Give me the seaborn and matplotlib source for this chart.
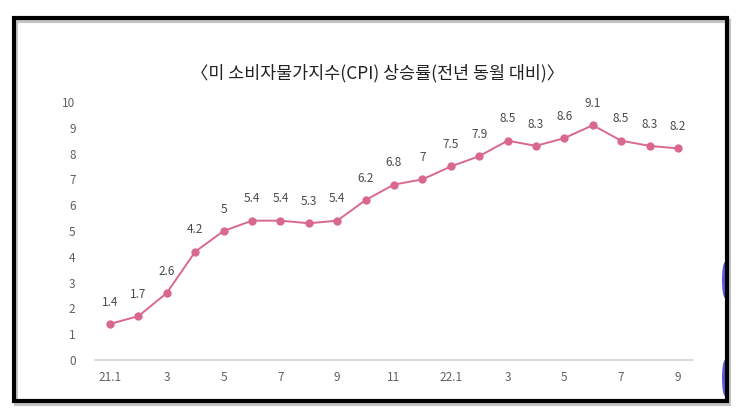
import matplotlib
matplotlib.use("Agg")
import matplotlib.pyplot as plt
import seaborn as sns
import pandas as pd
from matplotlib.patches import Rectangle, Ellipse

months = ["21.1","21.2","21.3","21.4","21.5","21.6","21.7","21.8","21.9","21.10","21.11","21.12",
          "22.1","22.2","22.3","22.4","22.5","22.6","22.7","22.8","22.9"]
cpi = [1.4,1.7,2.6,4.2,5,5.4,5.4,5.3,5.4,6.2,6.8,7,7.5,7.9,8.5,8.3,8.6,9.1,8.5,8.3,8.2]
xtick_labels = ["21.1","3","5","7","9","11","22.1","3","5","7","9"]
yticks = [0,1,2,3,4,5,6,7,8,9,10]
title = "〈미 소비자물가지수(CPI) 상승률(전년 동월 대비)〉"

sns.set_theme(style="white")
plt.rcParams['font.family'] = ['Noto Sans CJK KR', 'DejaVu Sans']

df = pd.DataFrame({"idx": range(len(months)), "month": months, "cpi": cpi})

fig = plt.figure(figsize=(7.43, 4.17), dpi=100)
fig.patch.set_facecolor("white")

W, H = 743, 417
# blue marks at right edge
for yc in (280, 378):
    fig.add_artist(Ellipse((725/W, 1-yc/H), 6/W, 36/H, transform=fig.transFigure,
                           facecolor="#5a5ae0", edgecolor="none", zorder=0))
# frame with shadow
fig.add_artist(Rectangle((16/W, 1-404/H), 713/W, 383/H, transform=fig.transFigure,
                         facecolor="none", edgecolor="#c4c4c4", lw=3, zorder=0))
fig.add_artist(Rectangle((14/W, 1-401/H), 713/W, 383/H, transform=fig.transFigure,
                         facecolor="none", edgecolor="black", lw=3, zorder=1))

ax = fig.add_axes([95/W, 57/H, 598/W, 258/H])
ax.set_facecolor("none")
color = "#d9698c"
sns.lineplot(data=df, x="idx", y="cpi", ax=ax, color=color, lw=1.4,
             marker="o", markersize=6, markeredgewidth=0, clip_on=False)

for i, v in enumerate(cpi):
    lab = f"{v:g}"
    ax.annotate(lab, (i, v), xytext=(0, 11), textcoords="offset points",
                ha="center", va="bottom", fontsize=8.5, color="#4a4a4a", fontweight="light")

ax.set_xlim(-0.53, 20.53)
ax.set_ylim(0, 10)
ax.set_xticks(list(range(0, len(months), 2)))
ax.set_xticklabels(xtick_labels, fontsize=8.5, color="#606060", fontweight="light")
ax.set_yticks(yticks)
ax.set_yticklabels([str(t) for t in yticks], fontsize=8.5, color="#606060", fontweight="light")
ax.tick_params(axis="x", length=0, pad=8)
ax.tick_params(axis="y", length=0, pad=14)
ax.set_xlabel("")
ax.set_ylabel("")
for s in ["top", "right", "left"]:
    ax.spines[s].set_visible(False)
ax.spines["bottom"].set_color("#d4d4d4")
ax.spines["bottom"].set_linewidth(1.2)
ax.grid(False)

fig.text(378/W, 1-73/H, title, ha="center", va="center", fontsize=12.5, color="#222222")

fig.savefig("out.png", dpi=100, facecolor="white")
